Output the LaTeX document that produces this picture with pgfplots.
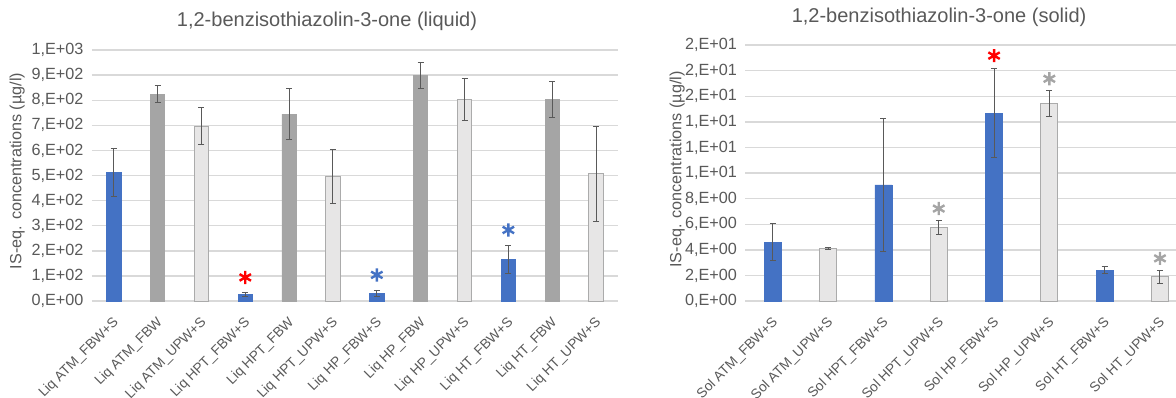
\documentclass[border=0pt]{standalone}
\usepackage{fontspec}
\setmainfont{Liberation Sans}
\usepackage{pgfplots}
\usepackage{pgfplotstable}
\pgfplotsset{compat=1.18}
\definecolor{mblue}{HTML}{4472C4}
\definecolor{mdark}{HTML}{A5A5A5}
\definecolor{mlight}{HTML}{E7E6E6}
\definecolor{mlightedge}{HTML}{ABABAB}
\definecolor{mtext}{HTML}{595959}
\definecolor{mgrid}{HTML}{D9D9D9}
\definecolor{merr}{HTML}{595959}
\definecolor{mred}{HTML}{FF0000}
\definecolor{mstar}{HTML}{A5A5A5}

% left chart: x y err
\pgfplotstableread{
x y e
0 511 95
3 27 8
6 31 12
9 164 56
}\liqblue
\pgfplotstableread{
x y e
1 823 34
4 745 100
7 900 52
10 804 71
}\liqdark
\pgfplotstableread{
x y e
2 696 73
5 497 108
8 803 82
11 506 189
}\liqlight
% right chart
\pgfplotstableread{
x y e
0 4.60 1.46
2 9.07 5.17
4 14.68 3.50
6 2.42 0.25
}\solblue
\pgfplotstableread{
x y e
1 4.08 0.07
3 5.74 0.58
5 15.43 1.01
7 1.90 0.52
}\sollight

\pgfplotsset{
  mystyle/.style={
    scale only axis,
    anchor=south west,
    ymin=0,
    axis x line*=bottom,
    axis y line*=left,
    x axis line style={draw=mgrid, line width=0.7pt},
    y axis line style={draw=none},
    ymajorgrids,
    grid style={draw=mgrid, line width=0.7pt},
    major tick length=0pt,
    tick style={draw=none},
    yticklabel style={font=\fontsize{8.1}{9}\selectfont, inner sep=0pt, xshift=-4pt, text=mtext},
    xticklabel style={font=\fontsize{6.9}{8}\selectfont, inner sep=0pt, xshift=1.5pt, yshift=-9.6pt, rotate=45, anchor=east, text=mtext},
    every axis title/.style={font=\fontsize{10}{12}\selectfont, text=mtext, anchor=center},
    every axis y label/.style={rotate=90, anchor=center, font=\fontsize{8.1}{9}\selectfont, text=mtext},
    clip=false,
  },
  errs/.style={
    error bars/.cd, y dir=both, y explicit,
    error bar style={draw=merr, line width=0.5pt},
    error mark options={draw=merr, rotate=90, mark size=1.5pt, line width=0.5pt},
  },
}

\begin{document}
\begin{tikzpicture}
\path[use as bounding box] (0pt,0pt) rectangle (588pt,198.5pt);

\begin{axis}[mystyle,
  at={(45.9pt,48pt)},
  width=263.1pt, height=125.5pt,
  xmin=-0.5, xmax=11.5,
  ymax=1000,
  ytick={0,100,...,1000},
  yticklabels={0{,}E+00,1{,}E+02,2{,}E+02,3{,}E+02,4{,}E+02,5{,}E+02,6{,}E+02,7{,}E+02,8{,}E+02,9{,}E+02,1{,}E+03},
  xtick={0,...,11},
  xticklabels={Liq ATM\_FBW+S,Liq ATM\_FBW,Liq ATM\_UPW+S,Liq HPT\_FBW+S,Liq HPT\_FBW,Liq HPT\_UPW+S,Liq HP\_FBW+S,Liq HP\_FBW,Liq HP\_UPW+S,Liq HT\_FBW+S,Liq HT\_FBW,Liq HT\_UPW+S},
  title={1,2-benzisothiazolin-3-one (liquid)},
  every axis title/.append style={at={(axis description cs:0.447,1.115)}},
  ylabel={IS-eq. concentrations (µg/l)},
  every axis y label/.append style={at={(axis description cs:-0.142,0.518)}},
]
\addplot[ybar, bar width=7.2pt, bar shift=0pt, fill=mblue, draw=mblue, errs] table[x=x, y=y, y error=e] {\liqblue};
\addplot[ybar, bar width=7.2pt, bar shift=0pt, fill=mdark, draw=mdark, errs] table[x=x, y=y, y error=e] {\liqdark};
\addplot[ybar, bar width=7.2pt, bar shift=0pt, fill=mlight, draw=mlightedge, line width=0.5pt, errs] table[x=x, y=y, y error=e] {\liqlight};
\addplot[only marks, mark=asterisk, mark size=3.3pt, mark options={draw=mred, line width=1.2pt}] coordinates {(3,94)};
\addplot[only marks, mark=asterisk, mark size=3.3pt, mark options={draw=mblue, line width=1.2pt}] coordinates {(6,104) (9,283)};
\end{axis}

\begin{axis}[mystyle,
  at={(372.6pt,48pt)},
  width=215.4pt, height=128pt,
  xmin=-0.5, xmax=7.29,
  ymax=20,
  ytick={0,2,...,20},
  yticklabels={0{,}E+00,2{,}E+00,4{,}E+00,6{,}E+00,8{,}E+00,1{,}E+01,1{,}E+01,1{,}E+01,2{,}E+01,2{,}E+01,2{,}E+01},
  xtick={0,...,7},
  xticklabels={Sol ATM\_FBW+S,Sol ATM\_UPW+S,Sol HPT\_FBW+S,Sol HPT\_UPW+S,Sol HP\_FBW+S,Sol HP\_UPW+S,Sol HT\_FBW+S,Sol HT\_UPW+S},
  title={1,2-benzisothiazolin-3-one (solid)},
  every axis title/.append style={at={(axis description cs:0.45,1.11)}},
  ylabel={IS-eq. concentrations (µg/l)},
  every axis y label/.append style={at={(axis description cs:-0.158,0.514)}},
]
\addplot[ybar, bar width=8.5pt, bar shift=0pt, fill=mblue, draw=mblue, errs] table[x=x, y=y, y error=e] {\solblue};
\addplot[ybar, bar width=8.5pt, bar shift=0pt, fill=mlight, draw=mlightedge, line width=0.5pt, errs] table[x=x, y=y, y error=e] {\sollight};
\addplot[only marks, mark=asterisk, mark size=3.3pt, mark options={draw=mred, line width=1.2pt}] coordinates {(4,19.17)};
\addplot[only marks, mark=asterisk, mark size=3.3pt, mark options={draw=mstar, line width=1.2pt}] coordinates {(3,7.22) (5,17.36) (7,3.33)};
\end{axis}
\end{tikzpicture}
\end{document}
